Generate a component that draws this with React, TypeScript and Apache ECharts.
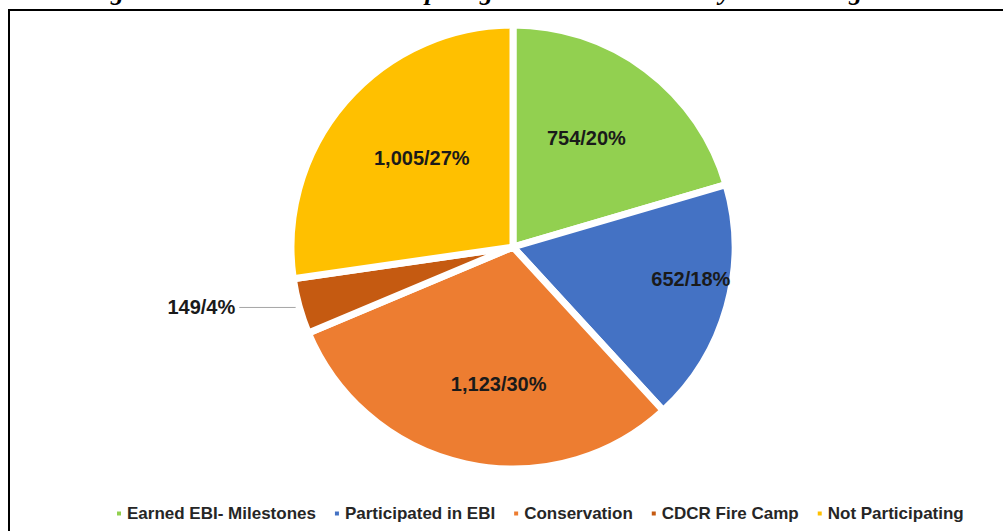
import React, { useEffect, useRef } from "react";
import * as echarts from "echarts";

const categories = [
  "Earned EBI- Milestones",
  "Participated in EBI",
  "Conservation",
  "CDCR Fire Camp",
  "Not Participating",
];
const counts = [754, 652, 1123, 149, 1005];
const colors = ["#92D050", "#4472C4", "#ED7D31", "#C55A11", "#FFC000"];
const titleText =
  "Figure 8 \u2013 New Inmates Participating in Enhanced Custody Credit Programs";

// label nudges (dx, dy) relative to ECharts' default inside position
const labelNudge: [number, number][] = [
  [5, -18],
  [68, 1],
  [10, 26],
  [0, 0],
  [-5, -14],
];

export default function App() {
  const ref = useRef<HTMLDivElement>(null);
  useEffect(() => {
    if (!ref.current) return;
    const chart = echarts.init(ref.current, null, { renderer: "svg" });
    const data = categories.map((name, i) => {
      const item: any = { name, value: counts[i], itemStyle: { color: colors[i] } };
      if (i === 3) {
        item.label = {
          position: "outside",
          show: true,
          fontSize: 20,
          fontWeight: "bold",
          color: "#1a1a1a",
          fontFamily: "Liberation Sans, Arial, sans-serif",
          distanceToLabelLine: 4,
        };
        item.labelLine = {
          show: true,
          length: 4,
          length2: 56,
          lineStyle: { color: "#a6a6a6", width: 1 },
        };
      }
      return item;
    });
    chart.setOption({
      animation: false,
      backgroundColor: "#ffffff",
      graphic: [
        {
          type: "rect",
          shape: { x: 9, y: 10, width: 1020, height: 560 },
          style: { fill: "none", stroke: "#000", lineWidth: 2 },
          silent: true,
        },
        {
          type: "text",
          x: 501,
          y: -9,
          style: {
            text: titleText,
            align: "center",
            verticalAlign: "middle",
            font: 'italic bold 26px "Liberation Serif", "Times New Roman", serif',
            fill: "#000",
          },
          silent: true,
        },
      ],
      legend: {
        data: categories,
        left: 110,
        top: 500,
        icon: "rect",
        itemWidth: 6,
        itemHeight: 6,
        itemGap: 17,
        textStyle: {
          fontSize: 17,
          fontWeight: "bold",
          color: "#262626",
          fontFamily: "Liberation Sans, Arial, sans-serif",
        },
      },
      series: [
        {
          type: "pie",
          center: [513, 247],
          radius: [0, 222],
          startAngle: 90,
          clockwise: true,
          avoidLabelOverlap: false,
          itemStyle: { borderColor: "#ffffff", borderWidth: 7 },
          label: {
            show: true,
            position: "inside",
            fontSize: 20,
            fontWeight: "bold",
            color: "#1a1a1a",
            fontFamily: "Liberation Sans, Arial, sans-serif",
            formatter: (p: any) =>
              `${Number(p.value).toLocaleString("en-US")}/${Math.round(p.percent)}%`,
          },
          labelLine: { show: false },
          labelLayout: (p: any) => {
            const n = labelNudge[p.dataIndex];
            if (!n || p.dataIndex === 3) return {};
            return { dx: n[0], dy: n[1] };
          },
          emphasis: { disabled: true },
          data,
        },
      ],
    });
    return () => chart.dispose();
  }, []);
  return (
    <div
      ref={ref}
      style={{ position: "absolute", left: 0, top: 0, width: 1003, height: 531 }}
    />
  );
}
